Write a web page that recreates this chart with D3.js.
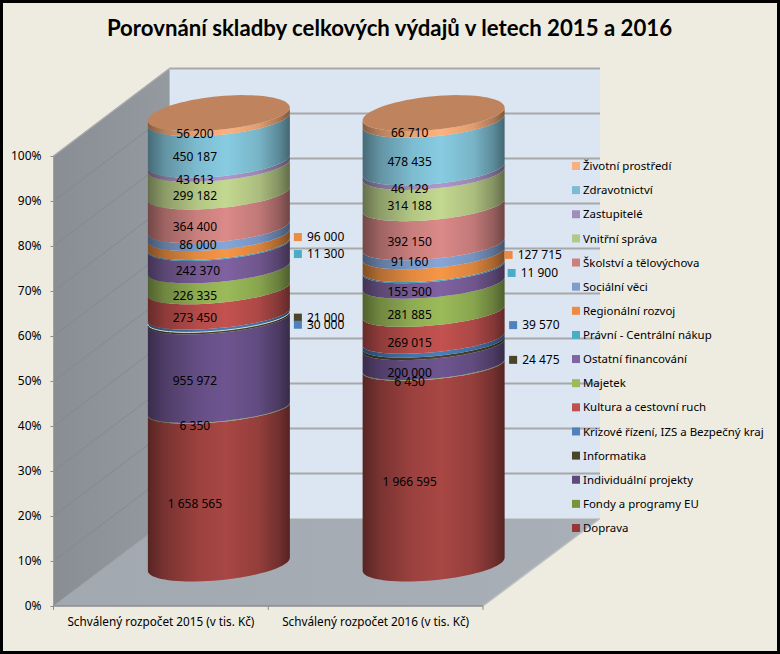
<!DOCTYPE html>
<html>
<head>
<meta charset="utf-8">
<title>Porovnání skladby celkových výdajů</title>
<style>
  body { margin: 0; background: #EEECE1; }
  svg { display: block; }
  text { font-family: "Noto Sans", sans-serif; fill: #000; }
  .title { font-family: Lato, sans-serif; font-size: 22.2px; font-weight: bold; }
  .small { font-size: 12px; }
  .axis path { display: none; }
  .axis line { stroke: #8c8c8c; }
</style>
</head>
<body>
<svg id="chart" width="780" height="654"></svg>
<script src="https://cdnjs.cloudflare.com/ajax/libs/d3/7.8.5/d3.min.js"></script>
<script>
var chartTitle = "Porovnání skladby celkových výdajů v letech 2015 a 2016";
var categories = ["Schválený rozpočet 2015 (v tis. Kč)", "Schválený rozpočet 2016 (v tis. Kč)"];
var seriesNames = ["Doprava", "Fondy a programy EU", "Individuální projekty", "Informatika",
  "Krizové řízení, IZS a Bezpečný kraj", "Kultura a cestovní ruch", "Majetek", "Ostatní financování",
  "Právní - Centrální nákup", "Regionální rozvoj", "Sociální věci", "Školství a tělovýchova",
  "Vnitřní správa", "Zastupitelé", "Zdravotnictví", "Životní prostředí"];
var values2015 = [1658565, 6350, 955972, 21000, 30000, 273450, 226335, 242370, 11300, 96000, 86000, 364400, 299182, 43613, 450187, 56200];
var values2016 = [1966595, 6450, 200000, 24475, 39570, 269015, 281885, 155500, 11900, 127715, 91160, 392150, 314188, 46129, 478435, 66710];
var percentTicks = [0, 10, 20, 30, 40, 50, 60, 70, 80, 90, 100];
var bandColors = ["#A84744", "#8FAA50", "#6E5590", "#4A452A", "#4A7EBB", "#C4524F", "#9BBB59", "#7F62A0",
  "#4BACC6", "#F79646", "#86A6D8", "#DB8A88", "#C3D890", "#AE98C8", "#88CCE2", "#FDB27E"];
var keyColors = ["#953735", "#77933C", "#604A7B", "#4A452A", "#4F81BD", "#C0504D", "#9BBB59", "#8064A2",
  "#4BACC6", "#EE8B43", "#7F9DCB", "#CC7F7D", "#B0C987", "#A18DBA", "#7DBBD1", "#FBAF7E"];

var svg = d3.select("#chart");
var defs = svg.append("defs");

// the 3D box, front corner and how far the back wall sits behind it
var left = 53.5, right = 483, floorY = 606, topY = 156;
var depthX = 116, depthY = -87.5;
var backRight = right + depthX + 1;

var x = d3.scaleBand().domain(categories).range([left, right]);
var y = d3.scaleLinear().domain([0, 100]).range([floorY, topY]);

svg.append("rect").attr("width", 780).attr("height", 654).attr("fill", "#EEECE1");

defs.append("linearGradient").attr("id", "sideWall")
  .attr("x1", 0).attr("x2", 1).attr("y1", 0).attr("y2", 0)
  .call(function(g) {
    g.append("stop").attr("offset", 0).attr("stop-color", "#898E94");
    g.append("stop").attr("offset", 1).attr("stop-color", "#959AA1");
  });
defs.append("linearGradient").attr("id", "floor")
  .attr("x1", 0).attr("x2", 1).attr("y1", 0).attr("y2", 0)
  .call(function(g) {
    g.append("stop").attr("offset", 0).attr("stop-color", "#A2A8AF");
    g.append("stop").attr("offset", 1).attr("stop-color", "#A9AFB6");
  });

// walls
svg.append("rect")
  .attr("x", left + depthX).attr("y", y(100) + depthY)
  .attr("width", backRight - left - depthX).attr("height", y(0) - y(100))
  .attr("fill", "#DCE6F2");
svg.append("polygon")
  .attr("points", [[left, y(100)], [left + depthX, y(100) + depthY], [left + depthX, y(0) + depthY], [left, y(0)]].join(" "))
  .attr("fill", "url(#sideWall)");
svg.append("polygon")
  .attr("points", [[left, y(0)], [left + depthX, y(0) + depthY], [backRight, y(0) + depthY], [right, y(0)]].join(" "))
  .attr("fill", "url(#floor)");

// grid on back wall and side wall
svg.selectAll(".backgrid").data(percentTicks.slice(1)).enter().append("line")
  .attr("x1", left + depthX).attr("x2", backRight)
  .attr("y1", function(d) { return y(d) + depthY; })
  .attr("y2", function(d) { return y(d) + depthY; })
  .attr("stroke", "#A8A8A8").attr("stroke-width", 2);
svg.selectAll(".sidegrid").data(percentTicks.slice(1)).enter().append("line")
  .attr("x1", left).attr("x2", left + depthX)
  .attr("y1", function(d) { return y(d); })
  .attr("y2", function(d) { return y(d) + depthY; })
  .attr("stroke", function(d) { return d == 100 ? "#A8A8A8" : "#82868B"; })
  .attr("stroke-width", function(d) { return d == 100 ? 1.5 : 0.8; });
svg.append("line").attr("x1", left + depthX).attr("x2", left + depthX)
  .attr("y1", y(100) + depthY).attr("y2", y(0) + depthY)
  .attr("stroke", "#B4B9BF");
svg.append("line").attr("x1", left).attr("x2", left)
  .attr("y1", y(100)).attr("y2", y(0)).attr("stroke", "#A0A0A0");
svg.append("line").attr("x1", right).attr("x2", backRight)
  .attr("y1", y(0)).attr("y2", y(0) + depthY).attr("stroke", "#BDBDBD").attr("stroke-width", 1.5);
svg.append("line").attr("x1", left).attr("x2", left + depthX)
  .attr("y1", y(0)).attr("y2", y(0) + depthY).attr("stroke", "#9A9FA5");
svg.append("line").attr("x1", left).attr("x2", right)
  .attr("y1", y(0)).attr("y2", y(0)).attr("stroke", "#8C8C8C").attr("stroke-width", 1.5);

// axes
svg.append("g").attr("class", "axis")
  .attr("transform", "translate(" + left + ",0)")
  .call(d3.axisLeft(y).tickValues(percentTicks).tickSize(3).tickPadding(9).tickFormat(function(d) { return d + "%"; }))
  .selectAll("text").style("font-size", "12px").attr("font-family", null);

svg.append("g").attr("class", "axis")
  .attr("transform", "translate(0," + floorY + ")")
  .call(d3.axisBottom(x).tickSize(0).tickPadding(12))
  .selectAll("text").style("font-size", "11.75px").attr("font-family", null);
svg.selectAll(".cattick").data(x.domain().map(function(c) { return x(c); }).concat([right])).enter().append("line")
  .attr("x1", function(d) { return d; }).attr("x2", function(d) { return d; })
  .attr("y1", floorY).attr("y2", floorY + 4).attr("stroke", "#8C8C8C");

// stack the shares, a cylinder stands half way into the depth of the box
var rows = categories.map(function(c, i) {
  var row = { category: c };
  var vals = i == 0 ? values2015 : values2016;
  seriesNames.forEach(function(s, j) { row[s] = vals[j]; });
  return row;
});
var stacked = d3.stack().keys(seriesNames).offset(d3.stackOffsetExpand)(rows);

var radiusX = 71, tilt = 6.5, capBack = 18;
// rims are flatter in the middle of the cylinder than at its base
var radiusFront = d3.scaleLinear().domain([0, .34, .6, 1]).range([16, 12.6, 13.4, 15.5]);
function cx(cat) { return x(cat) + x.bandwidth() / 2 + depthX / 2; }
function cy(share) { return y(share * 100) - 41.75; }

var arcSteps = d3.range(0, 41).map(function(i) { return i / 40 * Math.PI; });
var rimLine = d3.line().x(function(d) { return d[0]; }).y(function(d) { return d[1]; });
function rimPoint(cat, share, t) {
  var b = Math.sin(t) < 0 ? capBack : radiusFront(share);
  return [cx(cat) + radiusX * Math.cos(t), cy(share) - tilt * Math.cos(t) + b * Math.sin(t)];
}
function bandPath(cat, low, high) {
  var top = arcSteps.map(function(t) { return rimPoint(cat, high, t); });
  var bottom = arcSteps.slice().reverse().map(function(t) { return rimPoint(cat, low, t); });
  return rimLine(top.concat(bottom)) + "Z";
}

// one shaded gradient per series, dark at both edges of the cylinder
bandColors.forEach(function(c, i) {
  var mix = d3.interpolateRgb("#000", c);
  var g = defs.append("linearGradient").attr("id", "band" + i)
    .attr("x1", 0).attr("x2", 1).attr("y1", 0).attr("y2", 0);
  [[0, .52], [.12, .72], [.35, .92], [.55, 1], [.78, .88], [.92, .68], [1, .5]].forEach(function(s) {
    g.append("stop").attr("offset", s[0]).attr("stop-color", mix(s[1]));
  });
});

categories.forEach(function(cat, c) {
  var g = svg.append("g");
  stacked.forEach(function(layer, i) {
    g.append("path")
      .attr("d", bandPath(cat, layer[c][0], layer[c][1]))
      .attr("fill", "url(#band" + i + ")");
  });
  var capPts = d3.range(0, 81).map(function(k) { return rimPoint(cat, 1, k / 80 * 2 * Math.PI); });
  g.append("path").attr("d", rimLine(capPts) + "Z").attr("fill", "#BF845E");
});

// the pale rim showing between Informatika and Krizové in 2015
svg.append("path")
  .attr("d", rimLine(arcSteps.map(function(t) { return rimPoint(categories[0], stacked[3][0][1], t); })))
  .attr("fill", "none").attr("stroke", "#DAD9CC").attr("stroke-width", 1);

// data labels, hand-moved in the original
var fmt = d3.formatLocale({ decimal: ",", thousands: " ", grouping: [3], currency: ["", ""] }).format(",d");
var nudge = {
  "0-5": [0, -1], "0-7": [3, -3], "0-10": [3, -3],
  "1-1": [0, -1], "1-2": [0, 1], "1-5": [0, 1], "1-7": [0, -1], "1-10": [0, -4], "1-13": [0, 1], "1-15": [0, -1]
};
var keyed = {
  "0-9": [4, -3], "0-8": [4, 9], "0-3": [4, -1], "0-4": [4, 8.5],
  "1-9": [0, -5.5], "1-8": [3, 5.5], "1-4": [4.5, -16], "1-3": [4.5, 15.5]
};
categories.forEach(function(cat, c) {
  stacked.forEach(function(layer, i) {
    var v = layer[c].data[layer.key];
    var mid = (layer[c][0] + layer[c][1]) / 2;
    var k = keyed[c + "-" + i];
    if (k) {
      var kx = cx(cat) + radiusX + k[0], ky = cy(mid) + k[1];
      svg.append("rect").attr("x", kx).attr("y", ky - 4).attr("width", 8).attr("height", 8).attr("fill", keyColors[i]);
      svg.append("text").attr("class", "small").attr("x", kx + 13).attr("y", ky).attr("dy", "0.36em").text(fmt(v));
    } else {
      var n = nudge[c + "-" + i] || [0, 0];
      svg.append("text").attr("class", "small")
        .attr("x", cx(cat) - 24 + n[0]).attr("y", cy(mid) + 16.5 + n[1])
        .attr("dy", "0.36em").attr("text-anchor", "middle").text(fmt(v));
    }
  });
});

// legend, top entry is the last series
var legendY = d3.scalePoint().domain(seriesNames).range([528, 166]);
var legend = svg.selectAll(".legend").data(seriesNames).enter().append("g")
  .attr("transform", function(d) { return "translate(572," + legendY(d) + ")"; });
legend.append("rect").attr("y", -4).attr("width", 8).attr("height", 8)
  .attr("fill", function(d, i) { return keyColors[i]; });
legend.append("text").attr("x", 11).attr("dy", "0.36em")
  .style("font-size", "11.45px").text(function(d) { return d; });

svg.append("text").attr("class", "title").attr("x", 389.5).attr("y", 35.5)
  .attr("text-anchor", "middle").text(chartTitle);

// black picture frame
svg.append("rect").attr("x", 1.5).attr("y", 1.5).attr("width", 777).attr("height", 651)
  .attr("fill", "none").attr("stroke", "#000").attr("stroke-width", 3);
</script>
</body>
</html>
